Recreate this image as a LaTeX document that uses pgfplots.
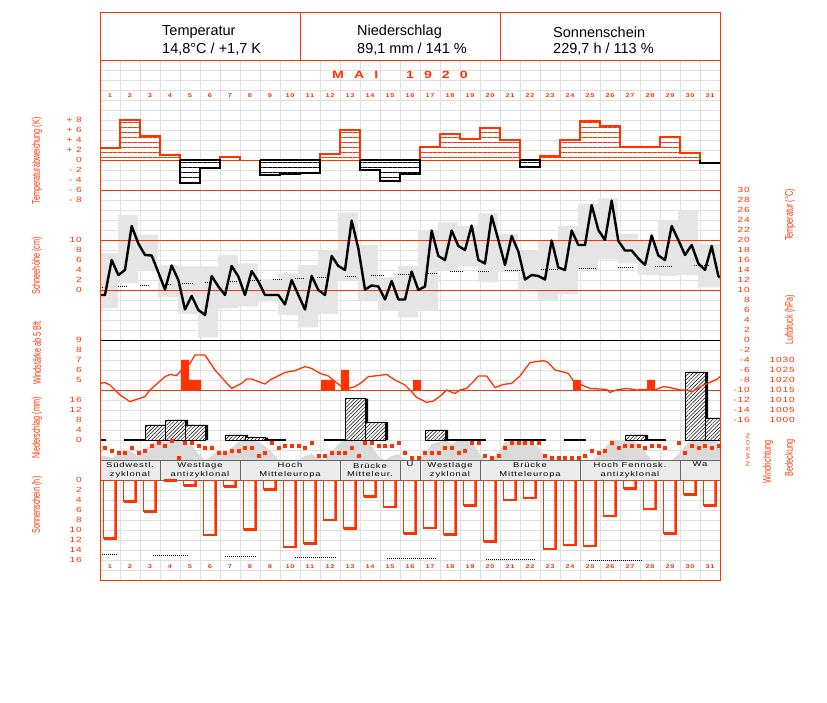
\documentclass[border=0pt]{standalone}
\usepackage{pgfplots}
\pgfplotsset{compat=1.18}
\usetikzlibrary{patterns.meta}
\usepackage{fontspec}
\setmainfont{Liberation Sans}
\newfontfamily\pixfont[FakeStretch=1.35,LetterSpace=12]{Liberation Sans}
\newfontfamily\narrowfont[FakeStretch=0.66]{Liberation Sans}
\definecolor{dred}{RGB}{255,51,0}
\definecolor{gridgray}{RGB}{224,224,224}
\definecolor{blockgray}{RGB}{229,229,229}
\definecolor{cloudgray}{RGB}{218,218,218}
\newcommand\tickfont{\pixfont\fontsize{7.5}{8}\selectfont}
\newcommand\dayfont{\pixfont\bfseries\fontsize{5.5}{6}\selectfont}
\newcommand\labfont{\narrowfont\fontsize{11}{12}\selectfont}
\newcommand\wfont{\pixfont\fontsize{7}{8.5}\selectfont}

\pgfplotsset{
  panel/.style={scale only axis, width=620pt, xmin=0.5, xmax=31.5,
    anchor=south west, axis line style={draw=none}, tick style={draw=none},
    major tick length=0pt, xtick=\empty, ytick=\empty},
  lefttick/.style={yticklabel style={anchor=east, inner sep=0pt,
    xshift=-18pt, font=\tickfont, text=dred}},
  righttick/.style={yticklabel pos=right, yticklabel style={anchor=east,
    inner sep=0pt, xshift=#1, font=\tickfont, text=dred}},
}

\begin{document}
\begin{tikzpicture}
\path[use as bounding box] (0pt,0pt) rectangle (827pt,702pt);

% grid
\begin{axis}[panel, at={(100pt,122pt)}, height=520pt, ymin=0, ymax=52,
  xtick={0.5,1.5,...,31.5}, ytick={0,1,...,52}, xticklabels={}, yticklabels={},
  grid=major, major grid style={gridgray, line width=0.8pt}]
\addplot[draw=none] coordinates {(1,1)};
\end{axis}

% weather types
\foreach \a/\b/\t in {100/160/{S\"udwestl.\\zyklonal}, 160/240/{Westlage\\antizyklonal},
  240/340/{Hoch\\Mitteleuropa}, 340/400/{Br\"ucke\\Mitteleur.}, 400/420/{U\\\strut},
  420/480/{Westlage\\zyklonal}, 480/580/{Br\"ucke\\Mitteleuropa},
  580/680/{Hoch Fennosk.\\antizyklonal}, 680/720/{Wa\\\strut}} {
  \draw[black!60, fill=gray!16, line width=0.7pt] (\a pt,222pt) rectangle (\b pt,242pt);
  \node[font=\wfont, align=center, inner sep=0pt] at ({(\a pt+\b pt)/2},232pt) {\t};
}

% cloud cover (0..10)
\begin{axis}[panel, at={(100pt,242pt)}, height=20pt, ymin=0, ymax=10]
\addplot[fill=cloudgray, draw=none] coordinates {
  (0.5,0) (0.5,2) (0.75,2) (1.083,1) (1.417,3) (1.75,5) (2.083,4) (2.417,2) (2.75,5) (3.083,8)
  (3.417,10) (3.75,9) (4.083,10) (4.417,10) (4.75,9) (5.083,7) (5.417,3) (5.75,0)
  (6.083,2) (6.417,5) (6.75,3) (7.083,6) (7.417,9) (7.75,10) (8.083,10) (8.417,9)
  (8.75,7) (9.083,4) (9.417,0) (9.75,0) (10.083,0) (10.417,0) (10.75,2) (11.083,3)
  (11.417,1) (11.75,0) (12.083,4) (12.417,8) (12.75,10) (13.083,10) (13.417,9)
  (13.75,10) (14.083,7) (14.417,2) (14.75,0) (15.083,2) (15.417,3) (15.75,0) (16.083,0)
  (16.417,0) (16.75,3) (17.083,8) (17.417,9) (17.75,10) (18.083,8) (18.417,10)
  (18.75,10) (19.083,9) (19.417,4) (19.75,0) (20.083,0) (20.417,4) (20.75,9) (21.083,10)
  (21.417,10) (21.75,10) (22.083,9) (22.417,6) (22.75,2) (23.083,0) (23.417,0)
  (23.75,0) (24.083,0) (24.417,0) (24.75,0) (25.083,0) (25.417,2) (25.75,6) (26.083,10)
  (26.417,10) (26.75,9) (27.083,10) (27.417,8) (27.75,4) (28.083,0) (28.417,0)
  (28.75,0) (29.083,0) (29.417,3) (29.75,7) (30.083,10) (30.417,9) (30.75,10)
  (31.083,10) (31.417,9) (31.5,8) (31.5,0)} --cycle;
\end{axis}

% temperature anomaly
\begin{axis}[panel, lefttick, at={(100pt,502pt)}, height=90pt, ymin=-8, ymax=10,
  ytick={-8,-6,...,8}, yticklabels={- 8,- 6,- 4,- 2,0,+ 2,+ 4,+ 6,+ 8}]
\addplot[dred, line width=0.8pt] coordinates {(0.5,0) (31.5,0)};
\addplot[const plot, draw=none, preaction={fill=white}, pattern color=dred,
  pattern={Lines[angle=0,distance=5pt,line width=0.7pt]}] coordinates {
  (0.5,2.3) (1.5,8) (2.5,4.7) (3.5,1) (4.5,0) (5.5,0) (6.5,0.5) (7.5,0)
  (8.5,0) (9.5,0) (10.5,0) (11.5,1.1) (12.5,6) (13.5,0) (14.5,0) (15.5,0)
  (16.5,2.6) (17.5,5.2) (18.5,4.2) (19.5,6.4) (20.5,4) (21.5,0) (22.5,0.8)
  (23.5,4) (24.5,7.8) (25.5,6.8) (26.5,2.6) (27.5,2.6) (28.5,4.6) (29.5,1.4)
  (30.5,0) (31.5,0)} \closedcycle;
\addplot[const plot, draw=none, preaction={fill=white}, pattern color=black,
  pattern={Lines[angle=0,distance=5pt,line width=0.7pt]}] coordinates {
  (0.5,0) (1.5,0) (2.5,0) (3.5,0) (4.5,-4.7) (5.5,-1.7) (6.5,0) (7.5,0)
  (8.5,-3.1) (9.5,-2.9) (10.5,-2.7) (11.5,0) (12.5,0) (13.5,-2.1) (14.5,-4.2)
  (15.5,-2.8) (16.5,0) (17.5,0) (18.5,0) (19.5,0) (20.5,0) (21.5,-1.4)
  (22.5,0) (23.5,0) (24.5,0) (25.5,0) (26.5,0) (27.5,0) (28.5,0) (29.5,0)
  (30.5,-0.6) (31.5,-0.6)} \closedcycle;
\addplot[dred, line width=2pt, unbounded coords=jump] coordinates {
  (0.5,0) (0.5,2.3) (1.5,2.3) (1.5,8) (2.5,8) (2.5,4.7) (3.5,4.7) (3.5,1) (4.5,1) (4.5,0)
  (5,nan) (6.5,0) (6.5,0.5) (7.5,0.5) (7.5,0)
  (8,nan) (11.5,0) (11.5,1.1) (12.5,1.1) (12.5,6) (13.5,6) (13.5,0)
  (14,nan) (16.5,0) (16.5,2.6) (17.5,2.6) (17.5,5.2) (18.5,5.2) (18.5,4.2) (19.5,4.2)
  (19.5,6.4) (20.5,6.4) (20.5,4) (21.5,4) (21.5,0)
  (22,nan) (22.5,0) (22.5,0.8) (23.5,0.8) (23.5,4) (24.5,4) (24.5,7.8) (25.5,7.8)
  (25.5,6.8) (26.5,6.8) (26.5,2.6) (28.5,2.6) (28.5,4.6) (29.5,4.6) (29.5,1.4)
  (30.5,1.4) (30.5,0)};
\addplot[black, line width=2pt, unbounded coords=jump] coordinates {
  (4.5,0) (4.5,-4.7) (5.5,-4.7) (5.5,-1.7) (6.5,-1.7) (6.5,0) (4.5,0)
  (7,nan) (8.5,0) (8.5,-3.1) (9.5,-3.1) (9.5,-2.9) (10.5,-2.9) (10.5,-2.7) (11.5,-2.7) (11.5,0) (8.5,0)
  (12,nan) (13.5,0) (13.5,-2.1) (14.5,-2.1) (14.5,-4.2) (15.5,-4.2) (15.5,-2.8) (16.5,-2.8) (16.5,0) (13.5,0)
  (17,nan) (21.5,0) (21.5,-1.4) (22.5,-1.4) (22.5,0) (21.5,0)
  (23,nan) (30.5,0) (30.5,-0.6) (31.5,-0.6)};
\end{axis}

% snow depth scale
\begin{axis}[panel, lefttick, at={(100pt,412pt)}, height=50pt, ymin=0, ymax=10,
  ytick={0,2,...,10}, yticklabels={0,2,4,6,8,10}]
\addplot[draw=none] coordinates {(1,0)};
\end{axis}

% temperature: daily range blocks, reference lines, normal, observations
\begin{axis}[panel, righttick=30pt, at={(100pt,262pt)}, height=250pt, ymin=-20, ymax=30,
  ytick={-16,-14,...,30},
  yticklabels={-16,-14,-12,-10,-8,-6,-4,-2,0,2,4,6,8,10,12,14,16,18,20,22,24,26,28,30}]
\addplot[fill=blockgray, draw=none] coordinates {
  (0.5,17.3) (1.4,17.3) (1.4,25) (2.4,25) (2.4,21) (3.4,21) (3.4,15) (4.4,15)
  (4.4,14.7) (6.4,14.7) (6.4,17) (7.4,17) (7.4,15.3) (8.4,15.3) (8.4,12.1) (9.4,12.1)
  (9.4,13.3) (10.4,13.3) (10.4,15) (11.4,15) (11.4,17.9) (12.4,17.9) (12.4,25.5)
  (13.4,25.5) (13.4,19) (14.4,19) (14.4,12.5) (15.4,12.5) (15.4,14.8) (16.4,14.8)
  (16.4,21.9) (17.4,21.9) (17.4,23.5) (18.4,23.5) (18.4,22.8) (19.4,22.8) (19.4,25.3)
  (20.4,25.3) (20.4,21.2) (21.4,21.2) (21.4,18) (22.4,18) (22.4,20) (23.4,20)
  (23.4,22.8) (24.4,22.8) (24.4,27.2) (25.4,27.2) (25.4,28.3) (26.4,28.3) (26.4,21.2)
  (27.4,21.2) (27.4,20) (28.4,20) (28.4,23.9) (29.4,23.9) (29.4,25.9) (30.4,25.9)
  (30.4,19.2) (31.5,19.2)
  (31.5,10.5) (30.4,10.5) (30.4,13) (29.4,13) (29.4,12.8) (28.4,12.8) (28.4,13)
  (27.4,13) (27.4,15.3) (26.4,15.3) (26.4,16.1) (25.4,16.1) (25.4,14) (24.4,14)
  (24.4,9.1) (23.4,9.1) (23.4,8) (22.4,8) (22.4,10.2) (21.4,10.2) (21.4,13.5)
  (20.4,13.5) (20.4,11.5) (19.4,11.5) (19.4,14.7) (18.4,14.7) (18.4,14) (17.4,14)
  (17.4,6) (16.4,6) (16.4,4.5) (15.4,4.5) (15.4,6) (14.4,6) (14.4,8) (13.4,8)
  (13.4,12) (12.4,12) (12.4,5.2) (11.4,5.2) (11.4,2.5) (10.4,2.5) (10.4,5) (9.4,5)
  (9.4,7.7) (8.4,7.7) (8.4,6.7) (7.4,6.7) (7.4,6.3) (6.4,6.3) (6.4,0.5) (5.4,0.5)
  (5.4,5.2) (4.4,5.2) (4.4,8.5) (3.4,8.5) (3.4,14) (2.4,14) (2.4,11.3) (1.4,11.3)
  (1.4,6.3) (0.5,6.3)} --cycle;
\addplot[dred, line width=0.9pt, unbounded coords=jump] coordinates {
  (0.5,30) (31.5,30) (31.6,nan) (0.5,20) (31.5,20) (31.6,nan) (0.5,10) (31.5,10)
  (31.6,nan) (0.5,-10) (31.5,-10) (31.6,nan) (0.5,-20) (31.5,-20)};
\addplot[black, line width=0.9pt] coordinates {(0.5,0) (31.5,0)};
\addplot[black, line width=0.9pt, dash pattern=on 1pt off 1pt, unbounded coords=jump] coordinates {
  (0.5,10.5) (0.67,10.5) (0.8,nan) (1.4,10.7) (1.9,10.7) (2,nan) (2.5,10.9) (3.0,10.9)
  (3.2,nan) (3.9,11.1) (4.1,11.1) (4.3,nan) (4.6,11.3) (5.2,11.3) (5.4,nan)
  (5.75,11.5) (6.0,11.5) (6.5,nan) (7.0,11.8) (7.4,11.8) (7.6,nan) (8.0,12.0)
  (8.55,12.0) (8.8,nan) (9.15,12.1) (9.65,12.1) (9.9,nan) (10.25,12.3) (10.7,12.3)
  (11,nan) (11.35,12.5) (11.85,12.5) (12.2,nan) (12.75,12.7) (13.35,12.7) (13.6,nan)
  (14.05,13.0) (14.7,13.0) (15,nan) (15.4,13.2) (16.0,13.2) (16.4,nan) (16.9,13.3)
  (17.4,13.3) (17.7,nan) (18.0,13.7) (18.7,13.7) (19,nan) (19.4,13.8) (20.0,13.8)
  (20.3,nan) (20.75,14.0) (21.6,14.0) (22,nan) (22.55,14.1) (23.4,14.1) (23.8,nan)
  (24.45,14.3) (25.3,14.3) (25.8,nan) (26.4,14.5) (27.2,14.5) (27.7,nan)
  (28.25,14.8) (29.1,14.8) (29.6,nan) (30.2,15.0) (31.0,15.0)};
\addplot[black, line width=2.4pt, line join=round] coordinates {
  (0.5,9.0) (0.75,9.0) (1.083,16.0) (1.417,13.0) (1.75,14.0) (2.083,22.8) (2.417,19.3)
  (2.75,17.0) (3.083,16.9) (3.417,13.5) (3.75,10.1) (4.083,14.9) (4.417,12.0)
  (4.75,6.1) (5.083,8.8) (5.417,6.0) (5.75,5.0) (6.083,12.8) (6.417,10.7)
  (6.75,9.0) (7.083,14.8) (7.417,12.7) (7.75,9.0) (8.083,13.8) (8.417,11.7)
  (8.75,9.0) (9.083,9.0) (9.417,9.0) (9.75,7.1) (10.083,12.0) (10.417,9.0)
  (10.75,6.1) (11.083,12.8) (11.417,10.0) (11.75,9.0) (12.083,16.8) (12.417,14.8)
  (12.75,14.0) (13.083,23.9) (13.417,18.3) (13.75,10.1) (14.083,10.9) (14.417,10.7)
  (14.75,8.1) (15.083,11.8) (15.417,8.1) (15.75,8.1) (16.083,13.7) (16.417,10.0)
  (16.75,10.7) (17.083,21.9) (17.417,16.8) (17.75,16.0) (18.083,21.9) (18.417,18.8)
  (18.75,18.0) (19.083,22.9) (19.417,16.0) (19.75,15.3) (20.083,24.8) (20.417,20.0)
  (20.75,15.0) (21.083,20.8) (21.417,17.7) (21.75,12.1) (22.083,13.0) (22.417,12.8)
  (22.75,12.1) (23.083,19.9) (23.417,14.5) (23.75,14.0) (24.083,21.9) (24.417,19.0)
  (24.75,19.0) (25.083,27.0) (25.417,22.0) (25.75,20.0) (26.083,27.9) (26.417,19.8)
  (26.75,17.9) (27.083,17.9) (27.417,16.3) (27.75,15.0) (28.083,20.9) (28.417,16.9)
  (28.75,16.0) (29.083,22.8) (29.417,20.0) (29.75,17.0) (30.083,19.0) (30.417,15.3)
  (30.75,14.0) (31.083,18.8) (31.417,12.8) (31.5,12.5)};
\end{axis}

% precipitation (bars measured 7h to 7h, shifted a quarter day)
\begin{axis}[panel, lefttick, at={(100pt,262pt)}, height=80pt, ymin=0, ymax=32,
  ytick={0,4,8,12,16}, yticklabels={0,4,8,12,16}]
\addplot[ybar, bar width=20pt, bar shift=8pt, fill=black, draw=none] coordinates {
  (3,6) (4,8) (5,6) (7,2) (8,0.9) (13,16.5) (14,7.1) (17,4) (27,2) (30,27.2) (31,8.8)};
\addplot[ybar, bar width=20pt, bar shift=5pt, draw=black, line width=0.7pt,
  preaction={fill=white}, pattern color=black,
  pattern={Lines[angle=45,distance=2.6pt,line width=0.5pt]}] coordinates {
  (3,6) (4,8) (5,6) (7,2) (8,0.9) (13,16.5) (14,7.1) (17,4) (27,2) (30,27.2) (31,8.8)};
\addplot[ybar, bar width=20pt, bar shift=5pt, draw=black, line width=1.4pt] coordinates {
  (0,0.1) (2,0.1) (9,0.1) (12,0.1) (18,0.1) (19,0.1) (21,0.1) (22,0.1) (24,0.1) (28,0.1)};
\end{axis}

% wind force
\begin{axis}[panel, lefttick, at={(100pt,312pt)}, height=50pt, ymin=4, ymax=9,
  ytick={5,...,9}, yticklabels={5,6,7,8,9}]
\addplot[fill=dred, draw=none] coordinates {(4.55,4) (4.55,7) (4.95,7) (4.95,5) (5.55,5) (5.55,4)} \closedcycle;
\addplot[fill=dred, draw=none] coordinates {(11.55,4) (11.55,5) (12.25,5) (12.25,4)} \closedcycle;
\addplot[fill=dred, draw=none] coordinates {(12.55,4) (12.55,6) (12.95,6) (12.95,4)} \closedcycle;
\addplot[fill=dred, draw=none] coordinates {(16.15,4) (16.15,5) (16.55,5) (16.55,4)} \closedcycle;
\addplot[fill=dred, draw=none] coordinates {(24.15,4) (24.15,5) (24.55,5) (24.55,4)} \closedcycle;
\addplot[fill=dred, draw=none] coordinates {(27.85,4) (27.85,5) (28.25,5) (28.25,4)} \closedcycle;
\end{axis}

% pressure
\begin{axis}[panel, righttick=75pt, at={(100pt,262pt)}, height=100pt, ymin=990, ymax=1040,
  ytick={1000,1005,...,1030}, yticklabels={1000,1005,1010,1015,1020,1025,1030}]
\addplot[dred, line width=1.3pt] coordinates {
  (0.5,1018.3) (0.75,1018.7) (1.0,1017.5) (1.5,1012.5) (2.0,1009.2) (2.75,1011.7)
  (3.0,1015) (3.75,1021.7) (4.0,1022.8) (4.33,1022.2) (4.55,1024.7) (5.0,1028.3)
  (5.25,1032.5) (5.75,1032.5) (6.25,1025) (6.92,1017.5) (7.08,1015.8) (7.58,1018.3)
  (7.83,1020.5) (8.08,1020.5) (8.42,1019.2) (8.75,1018) (9.0,1020) (9.33,1021.7)
  (9.75,1023.8) (10.25,1024.7) (10.75,1026.7) (11.08,1025.8) (11.5,1023.3)
  (11.92,1022) (12.25,1019.2) (12.58,1016.7) (12.92,1015.8) (13.25,1016.7)
  (13.58,1018.8) (13.92,1021.7) (14.42,1022.2) (14.83,1022.8) (15.25,1020)
  (15.75,1017.5) (16.08,1014.2) (16.33,1011.3) (16.83,1008.8) (17.17,1009.5)
  (17.58,1012.5) (17.83,1015) (18.0,1014.2) (18.25,1013.3) (18.5,1015) (18.83,1015.8)
  (19.17,1019.2) (19.42,1022) (19.83,1022) (20.25,1016.2) (20.67,1017.8) (21.08,1018.3)
  (21.5,1022) (22.0,1028.7) (22.67,1029.7) (22.92,1028.7) (23.25,1025) (23.67,1024)
  (23.92,1023.3) (24.25,1018.3) (24.58,1017.5) (25.0,1015.8) (25.83,1015.3) (26.0,1013.8)
  (26.33,1015) (26.83,1015.8) (27.33,1015) (27.83,1015.3) (28.25,1015) (28.67,1016.7)
  (29.0,1016.2) (29.5,1015) (29.83,1015) (30.08,1014.2) (30.33,1015.3) (30.67,1017.5)
  (31.0,1018.8) (31.33,1020.3) (31.5,1021.7)};
\end{axis}

% wind direction (degrees, N at top)
\begin{axis}[panel, at={(100pt,242pt)}, height=20pt, ymin=0, ymax=360, y dir=reverse, clip=false]
\addplot[only marks, mark=square*, mark size=1.4pt, color=dred] coordinates {
  (0.75,138) (1.083,198) (1.417,228) (1.75,228) (2.083,138) (2.417,228) (2.75,198)
  (3.083,108) (3.417,48) (3.75,108) (4.083,18) (4.417,318) (4.75,48) (5.083,48)
  (5.417,108) (5.75,138) (6.083,138) (6.417,228) (6.75,228) (7.083,198) (7.417,198)
  (7.75,138) (8.083,138) (8.417,288) (8.75,228) (9.083,48) (9.417,138) (9.75,108)
  (10.083,108) (10.417,108) (10.75,138) (11.083,48) (11.417,288) (11.75,288)
  (12.083,228) (12.417,228) (12.75,228) (13.083,138) (13.417,288) (13.75,48)
  (14.083,48) (14.417,108) (14.75,108) (15.083,108) (15.417,48) (15.75,228)
  (16.083,318) (16.417,318) (16.75,228) (17.083,228) (17.417,228) (17.75,138)
  (18.083,138) (18.417,228) (18.75,198) (19.083,48) (19.417,48) (19.75,288)
  (20.083,318) (20.417,288) (20.75,138) (21.083,48) (21.417,48) (21.75,48) (22.083,48)
  (22.417,48) (22.75,288) (23.083,318) (23.417,318) (23.75,318) (24.083,318)
  (24.417,318) (24.75,288) (25.083,198) (25.417,228) (25.75,198) (26.083,48)
  (26.417,138) (26.75,108) (27.083,108) (27.417,108) (27.75,138) (28.083,108)
  (28.417,108) (28.75,138) (29.417,48) (29.75,228) (30.083,108) (30.417,138)
  (30.75,108) (31.083,138) (31.417,108)};
\end{axis}

% sunshine
\begin{axis}[panel, lefttick, at={(100pt,142pt)}, height=80pt, ymin=0, ymax=16, y dir=reverse,
  ytick={0,2,...,16}, yticklabels={0,2,4,6,8,10,12,14,16}]
\addplot[ybar, bar width=13pt, bar shift=0pt, draw=dred, line width=0.9pt, fill=none] coordinates {
  (1,11.7) (2,4.3) (3,6.3) (4,0.1) (5,1.1) (6,11.0) (7,1.3) (8,9.9) (9,1.9) (10,13.4)
  (11,12.7) (12,8.0) (13,9.7) (14,3.3) (15,5.4) (16,10.7) (17,9.6) (18,10.9) (19,5.1)
  (20,12.3) (21,4.0) (22,3.6) (23,13.8) (24,13.0) (25,13.2) (26,7.2) (27,1.7) (28,5.8)
  (29,10.7) (30,2.9) (31,5.1)};
\addplot[ybar, bar width=2.4pt, bar shift=5.6pt, fill=dred, draw=none] coordinates {
  (1,11.7) (2,4.3) (3,6.3) (4,0.1) (5,1.1) (6,11.0) (7,1.3) (8,9.9) (9,1.9) (10,13.4)
  (11,12.7) (12,8.0) (13,9.7) (14,3.3) (15,5.4) (16,10.7) (17,9.6) (18,10.9) (19,5.1)
  (20,12.3) (21,4.0) (22,3.6) (23,13.8) (24,13.0) (25,13.2) (26,7.2) (27,1.7) (28,5.8)
  (29,10.7) (30,2.9) (31,5.1)};
\addplot[only marks, mark=-, mark size=6.8pt, color=dred, mark options={line width=2.2pt, xshift=0.4pt}] coordinates {
  (1,11.7) (2,4.3) (3,6.3) (4,0.1) (5,1.1) (6,11.0) (7,1.3) (8,9.9) (9,1.9) (10,13.4)
  (11,12.7) (12,8.0) (13,9.7) (14,3.3) (15,5.4) (16,10.7) (17,9.6) (18,10.9) (19,5.1)
  (20,12.3) (21,4.0) (22,3.6) (23,13.8) (24,13.0) (25,13.2) (26,7.2) (27,1.7) (28,5.8)
  (29,10.7) (30,2.9) (31,5.1)};
\addplot[black, line width=0.9pt, dash pattern=on 1pt off 1pt, unbounded coords=jump] coordinates {
  (0.5,14.8) (1.35,14.8) (2,nan) (3.13,15.0) (4.85,15.0) (5.5,nan) (6.75,15.3) (8.35,15.3)
  (9,nan) (10.25,15.5) (12.3,15.5) (13,nan) (14.85,15.7) (17.3,15.7) (18,nan)
  (19.8,15.9) (22.3,15.9) (23,nan) (24.95,16.0) (27.6,16.0) (28.5,nan) (30.2,16.2) (31.5,16.2)};
\end{axis}

% frame and header
\draw[dred, line width=0.9pt] (100pt,122pt) rectangle (720pt,690pt);
\draw[dred, line width=0.9pt] (100pt,642pt) -- (720pt,642pt)
  (300pt,642pt) -- (300pt,690pt) (500pt,642pt) -- (500pt,690pt);
\begin{scope}[every node/.style={anchor=west, inner sep=0pt, font=\fontsize{14.5}{16}\selectfont}]
\node at (162pt,670pt) {Temperatur};
\node at (162pt,653pt) {14,8°C / +1,7 K};
\node at (357pt,670pt) {Niederschlag};
\node at (357pt,653pt) {89,1 mm / 141 \%};
\node at (553pt,670pt) {Sonnenschein};
\node at (553pt,653pt) {229,7 h / 113 \%};
\end{scope}
\node[text=dred, font=\pixfont\bfseries\fontsize{10.5}{12}\selectfont] at (400pt,627pt)
  {M\hspace{10pt}A\hspace{10pt}I\hspace{28pt}1\hspace{10pt}9\hspace{10pt}2\hspace{10pt}0};
\foreach \d in {1,...,31} {
  \node[text=dred, font=\dayfont, inner sep=0pt] at ({90pt+20pt*\d},606pt) {\d};
  \node[text=dred, font=\dayfont, inner sep=0pt] at ({90pt+20pt*\d},135pt) {\d};
}

% side labels
\begin{scope}[every node/.style={rotate=90, text=dred, font=\labfont, inner sep=0pt}]
\node at (37pt,541pt) {Temperaturabweichung (K)};
\node at (37pt,436pt) {Schneeh\"ohe (cm)};
\node at (37pt,349pt) {Windst\"arke ab 5 Bft};
\node at (37pt,274pt) {Niederschlag (mm)};
\node at (37pt,197pt) {Sonnenschein (h)};
\node at (790pt,487pt) {Temperatur (°C)};
\node at (790pt,382pt) {Luftdruck (hPa)};
\node at (768pt,240pt) {Windrichtung};
\node at (790pt,244pt) {Bedeckung};
\end{scope}
\node[rotate=90, text=dred, font=\pixfont\fontsize{5}{6}\selectfont, inner sep=0pt] at (748pt,252pt) {N\,\,W\,\,S\,\,O\,\,N};
\end{tikzpicture}
\end{document}
